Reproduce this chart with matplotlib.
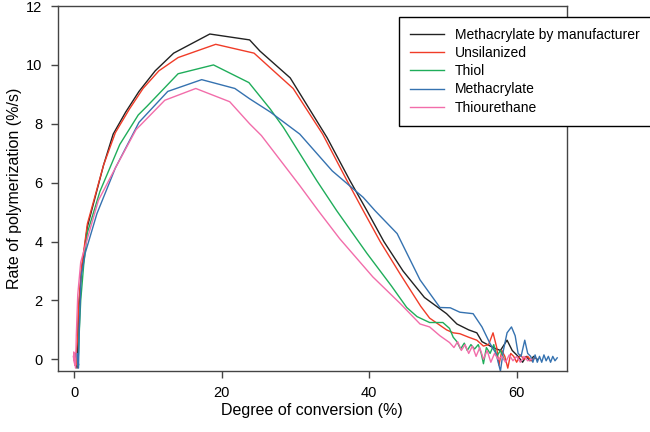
import matplotlib
matplotlib.use("Agg")
import matplotlib.pyplot as plt

plt.rcParams['font.family'] = ['Liberation Sans', 'DejaVu Sans']

labels = ["Methacrylate by manufacturer", "Unsilanized", "Thiol", "Methacrylate", "Thiourethane"]
colors = ["#222222", "#f03c28", "#1fad5a", "#3572b0", "#f26daa"]

black_x = [0.1, 0.3, 0.2, 0.4, 0.5, 0.6, 1.0, 1.8, 2.9, 4.0, 5.3, 7.0, 8.8, 11.0, 13.5, 18.4, 23.8, 25.2, 29.3,
           34.3, 37.4, 39.7, 42.0, 44.6, 47.5, 50.5, 51.9, 53.5, 54.6, 55.3, 56.8, 57.8, 58.7, 59.4, 60.2, 60.8,
           61.3, 61.8, 62.3, 62.8]
black_y = [0.0, -0.2, 0.2, -0.3, 0.5, 1.6, 3.0, 4.5, 5.55, 6.6, 7.65, 8.4, 9.1, 9.8, 10.4, 11.05, 10.85, 10.47, 9.56,
           7.53, 6.07, 5.05, 4.0, 3.0, 2.1, 1.55, 1.2, 1.0, 0.9, 0.6, 0.4, 0.3, 0.65, 0.3, 0.1, -0.1,
           0.1, -0.05, 0.1, 0.0]

red_x = [0.2, 0.4, 0.3, 0.5, 0.6, 1.0, 1.8, 2.9, 4.0, 5.6, 7.5, 9.35, 11.5, 14.1, 19.2, 24.4, 26.6, 29.7, 33.7, 37.0,
         39.2, 41.5, 44.2, 47.0, 48.2, 50.5, 51.4, 52.3, 53.5, 54.6, 55.5, 56.2, 56.8, 57.3, 57.6, 58.0, 58.4, 58.8,
         59.2, 59.6, 60.0, 60.5, 61.0, 61.5, 62.0, 62.5]
red_y = [0.0, -0.2, 0.2, 0.8, 1.8, 3.1, 4.6, 5.6, 6.6, 7.7, 8.5, 9.2, 9.8, 10.25, 10.7, 10.4, 9.9, 9.2, 7.65, 6.07,
         5.05, 4.0, 2.9, 1.8, 1.4, 1.0, 0.9, 0.87, 0.75, 0.65, 0.45, 0.5, 0.9, 0.4, -0.2, 0.3, 0.1, -0.3,
         0.2, 0.1, -0.1, 0.15, 0.0, 0.1, -0.05, 0.05]

green_x = [0.4, 0.5, 0.6, 0.7, 0.9, 1.3, 1.8, 3.5, 6.2, 8.7, 9.9, 14.1, 18.9, 23.7, 26.6, 28.4, 32.9, 35.6, 39.7,
           43.0, 45.1, 46.5, 48.2, 50.0, 50.9, 51.4, 51.9, 52.4, 52.9, 53.3, 53.8, 54.3, 54.8, 55.2, 55.5, 55.9,
           56.4, 56.9, 57.3, 57.8, 58.3]
green_y = [0.1, -0.2, 0.2, 0.9, 2.0, 3.2, 4.3, 5.7, 7.3, 8.3, 8.6, 9.7, 10.0, 9.4, 8.5, 7.87, 6.07, 5.05, 3.6,
           2.5, 1.76, 1.45, 1.25, 1.25, 1.05, 0.75, 0.6, 0.35, 0.55, 0.3, 0.5, 0.35, 0.5, 0.2, -0.15, 0.4,
           0.2, 0.5, 0.1, 0.3, 0.0]

blue_x = [0.5, 0.6, 0.4, 0.6, 0.7, 0.95, 1.5, 3.1, 5.6, 8.8, 12.7, 17.3, 21.8, 23.8, 26.6, 30.6, 35.0, 39.2, 40.8,
          43.8, 46.9, 49.6, 51.0, 52.3, 54.1, 55.3, 56.4, 57.2, 57.8, 58.2, 58.7, 59.3, 59.8, 60.2, 60.6, 61.1,
          61.5, 61.9, 62.2, 62.5, 62.8, 63.1, 63.4, 63.7, 64.0, 64.3, 64.6, 64.9, 65.2, 65.5]
blue_y = [0.1, -0.2, 0.2, -0.3, 1.0, 2.8, 3.6, 4.95, 6.5, 8.05, 9.1, 9.5, 9.2, 8.85, 8.4, 7.65, 6.4, 5.5, 5.05,
          4.27, 2.7, 1.76, 1.75, 1.6, 1.55, 1.1, 0.53, 0.2, -0.4, 0.3, 0.9, 1.1, 0.8, 0.2, 0.1, 0.65,
          0.2, 0.1, -0.1, 0.15, -0.1, 0.1, -0.1, 0.15, -0.05, 0.1, -0.1, 0.1, -0.05, 0.05]

pink_x = [-0.1, 0.1, -0.05, 0.2, 0.3, 0.5, 0.9, 1.8, 3.3, 5.6, 8.4, 12.3, 16.5, 21.1, 23.8, 25.4, 30.6, 33.1, 36.0,
          40.5, 44.2, 46.9, 48.2, 49.6, 50.9, 51.5, 52.0, 52.5, 53.0, 53.5, 54.0, 54.5, 55.0, 55.5, 56.0, 56.5,
          57.0, 57.5, 58.0, 58.5, 59.0, 59.5, 60.0, 60.5, 61.0, 61.5, 62.0]
pink_y = [0.1, -0.2, 0.25, -0.3, 0.8, 2.2, 3.3, 4.1, 5.4, 6.5, 7.8, 8.8, 9.2, 8.75, 8.0, 7.6, 5.9, 5.05, 4.1,
          2.8, 1.9, 1.2, 1.1, 0.8, 0.57, 0.4, 0.6, 0.3, 0.5, 0.2, 0.45, 0.1, 0.4, 0.0, 0.3, -0.1,
          0.2, 0.0, 0.1, -0.1, 0.15, -0.05, 0.1, -0.1, 0.1, -0.05, 0.0]

series = [(black_x, black_y), (red_x, red_y), (green_x, green_y), (blue_x, blue_y), (pink_x, pink_y)]

fig = plt.figure(figsize=(6.5, 4.32), dpi=100)
ax = fig.add_axes([0.089, 0.141, 0.783, 0.845])

handles = []
for (xs, ys), lab, col in zip(series, labels, colors):
    h, = ax.plot(xs, ys, color=col, lw=1.0, label=lab)
    handles.append(h)

ax.set_xlim(-2.2, 66.8)
ax.set_ylim(-0.4, 12)
ax.set_xticks([0, 20, 40, 60])
ax.set_yticks([0, 2, 4, 6, 8, 10, 12])
for s in ['left', 'bottom', 'top', 'right']:
    ax.spines[s].set_color('#444444')
    ax.spines[s].set_linewidth(1.0)
ax.tick_params(direction='out', length=5, width=1, color='#444444', labelsize=10.5, pad=6)
ax.set_xlabel("Degree of conversion (%)", fontsize=11.5)
ax.set_ylabel("Rate of polymerization (%/s)", fontsize=11.5)
ax.xaxis.set_label_coords(0.5, -0.107)
ax.yaxis.set_label_coords(-0.085, 0.5)
ax.xaxis.label.set_va('center')
ax.yaxis.label.set_va('center')

leg = fig.legend(handles=handles, loc='upper left', bbox_to_anchor=(0.614, 0.961),
                 fontsize=10, frameon=True, fancybox=False, edgecolor='black',
                 handlelength=2.4, labelspacing=0.3, borderpad=0.8, borderaxespad=0)
leg.get_frame().set_linewidth(1.0)
leg.get_frame().set_alpha(1.0)

fig.savefig("out.png", dpi=100)
